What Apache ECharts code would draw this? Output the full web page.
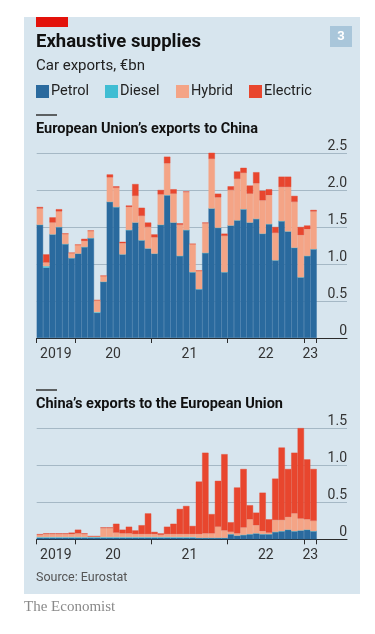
<!DOCTYPE html>
<html>
<head>
<meta charset="UTF-8">
<title>Exhaustive supplies</title>
<script src="https://cdn.jsdelivr.net/npm/echarts@6/dist/echarts.min.js"></script>
<style>
	html, body { margin: 0; padding: 0; background: #fff; }
	#main { width: 375px; height: 634px; }
</style>
</head>
<body>
<div id="main"></div>
<script>
// months, Jul 2019 - Feb 2023
var months = [
	'2019-07', '2019-08', '2019-09', '2019-10', '2019-11', '2019-12',
	'2020-01', '2020-02', '2020-03', '2020-04', '2020-05', '2020-06', '2020-07', '2020-08', '2020-09', '2020-10', '2020-11', '2020-12',
	'2021-01', '2021-02', '2021-03', '2021-04', '2021-05', '2021-06', '2021-07', '2021-08', '2021-09', '2021-10', '2021-11', '2021-12',
	'2022-01', '2022-02', '2022-03', '2022-04', '2022-05', '2022-06', '2022-07', '2022-08', '2022-09', '2022-10', '2022-11', '2022-12',
	'2023-01', '2023-02'
];
var yearLabels = ['2019', '20', '21', '22', '23'];
var fuels = ['Petrol', 'Diesel', 'Hybrid', 'Electric'];

// EU exports to China, €bn
var euPetrol = [1.53, 0.95, 1.40, 1.50, 1.27, 1.08, 1.14, 1.23, 1.35, 0.34, 0.76, 1.84, 1.77, 1.13, 1.46, 1.56, 1.32, 1.21, 1.14, 1.53, 1.93, 1.56, 1.11, 1.46, 0.89, 0.66, 1.15, 1.75, 1.49, 0.89, 1.52, 1.59, 1.74, 1.56, 1.61, 1.41, 1.54, 1.05, 1.58, 1.44, 1.22, 0.82, 1.11, 1.20];
var euDiesel = [0, 0.02, 0, 0, 0, 0, 0, 0, 0, 0.01, 0, 0, 0, 0, 0, 0, 0, 0, 0, 0, 0, 0, 0, 0, 0, 0, 0, 0, 0, 0, 0, 0, 0, 0, 0, 0, 0, 0, 0, 0, 0, 0, 0, 0];
var euHybrid = [0.22, 0.05, 0.16, 0.21, 0.14, 0.07, 0.12, 0.08, 0.10, 0.16, 0.08, 0.33, 0.26, 0.15, 0.31, 0.36, 0.33, 0.29, 0.22, 0.41, 0.43, 0.39, 0.42, 0.51, 0.38, 0.25, 0.40, 0.67, 0.41, 0.49, 0.48, 0.56, 0.49, 0.39, 0.48, 0.45, 0.39, 0.37, 0.46, 0.60, 0.62, 0.57, 0.36, 0.51];
var euElectric = [0.02, 0.11, 0.07, 0.03, 0, 0, 0, 0.03, 0, 0, 0, 0.04, 0.02, 0.02, 0.02, 0.16, 0.11, 0.06, 0.04, 0.06, 0.09, 0.06, 0.02, 0.01, 0, 0, 0.01, 0.13, 0.05, 0.03, 0.05, 0.10, 0.07, 0.11, 0.15, 0.13, 0.08, 0.08, 0.14, 0.14, 0.08, 0.11, 0.05, 0.02];

// China's exports to the EU, €bn
var cnPetrol = [0.02, 0.02, 0.02, 0.02, 0.02, 0.02, 0.02, 0.02, 0.02, 0.02, 0.02, 0.02, 0.02, 0.02, 0.02, 0.02, 0.02, 0.02, 0.02, 0.02, 0.02, 0.02, 0.02, 0.02, 0.02, 0.02, 0.02, 0.02, 0.02, 0.02, 0.07, 0.05, 0.06, 0.07, 0.08, 0.07, 0.07, 0.10, 0.11, 0.13, 0.11, 0.12, 0.13, 0.11];
var cnDiesel = [0.01, 0.01, 0.01, 0.01, 0.01, 0.01, 0.01, 0.01, 0.01, 0.01, 0.01, 0.01, 0.01, 0.01, 0.01, 0.01, 0.01, 0.01, 0.01, 0.01, 0.01, 0.01, 0.01, 0.01, 0.01, 0, 0, 0, 0, 0, 0, 0, 0, 0, 0, 0, 0, 0, 0, 0, 0, 0, 0, 0];
var cnHybrid = [0.03, 0.04, 0.04, 0.04, 0.04, 0.04, 0.05, 0.04, 0.01, 0.01, 0.12, 0.12, 0.06, 0.05, 0.05, 0.04, 0.04, 0.04, 0.04, 0.03, 0.04, 0.04, 0.04, 0.04, 0.04, 0.05, 0.06, 0.06, 0.15, 0.10, 0.03, 0.03, 0.10, 0.20, 0.11, 0.04, 0.02, 0.16, 0.15, 0.17, 0.24, 0.16, 0.14, 0.14];
var cnElectric = [0.01, 0.01, 0.01, 0.01, 0.01, 0.02, 0.05, 0.01, 0, 0, 0.01, 0.01, 0.12, 0.05, 0.09, 0.05, 0.12, 0.28, 0.03, 0.02, 0.10, 0.14, 0.34, 0.38, 0.11, 0.71, 1.09, 0.26, 0.62, 1.03, 0.13, 0.62, 0.79, 0.19, 0.17, 0.52, 0.18, 0.56, 0.98, 0.65, 0.82, 1.29, 0.81, 0.70];

var colors = ['#2a6a9e', '#3fbdd3', '#f4a486', '#e8462e'];
var sans = 'Roboto, "Noto Sans", sans-serif';

// layout: bars take 280px, the gridlines run on to 347px
var plotLeft = 36.7, plotWidth = 310.3, barsWidth = 280;
var n = months.length;
var xMax = n * plotWidth / barsWidth;

// year ticks at boundaries, labels centred in each year
var tickPos = [0];
months.forEach(function (m, i) {
	if (i > 0 && m.slice(5) === '01') tickPos.push(i);
});
tickPos.push(n);
var labelPos = [];
for (var k = 0; k < tickPos.length - 1; k++) labelPos.push((tickPos[k] + tickPos[k + 1]) / 2);

// full-width axis: baseline, year ticks and labels
function frameXAxis(gi) {
	return {
		type: 'value', gridIndex: gi, min: 0, max: xMax,
		axisLine: { show: true, onZero: false, lineStyle: { color: '#2b2b2b', width: 1 } },
		axisTick: { show: true, customValues: tickPos, length: 5, lineStyle: { color: '#2b2b2b' } },
		axisLabel: {
			customValues: labelPos, margin: 9, fontSize: 14, color: '#333', fontFamily: sans,
			formatter: function (v) { return yearLabels[labelPos.indexOf(v)]; }
		},
		splitLine: { show: false }
	};
}

function frameYAxis(gi, max) {
	return {
		type: 'value', gridIndex: gi, position: 'right', min: 0, max: max, interval: 0.5,
		axisLine: { show: false }, axisTick: { show: false },
		axisLabel: {
			inside: true, margin: 0, verticalAlign: 'bottom', fontSize: 14, color: '#333', fontFamily: sans,
			formatter: function (v) { return v === 0 ? '0' : v.toFixed(1); }
		},
		splitLine: { lineStyle: { color: '#a5b8c5', width: 1 } }
	};
}

// hidden axes that carry the bars
function barXAxis(gi) {
	return { type: 'category', gridIndex: gi, data: months, boundaryGap: true, show: false };
}
function barYAxis(gi, max) {
	return { type: 'value', gridIndex: gi, min: 0, max: max, show: false, splitLine: { show: false } };
}

function barSeries(name, values, gi, stack, color) {
	return {
		name: name, type: 'bar', stack: stack, xAxisIndex: gi, yAxisIndex: gi,
		barCategoryGap: '0%',
		data: values,
		itemStyle: { color: color, borderColor: color, borderWidth: 0.4 },
		emphasis: { disabled: true },
		silent: true,
		z: 3
	};
}

var euData = [euPetrol, euDiesel, euHybrid, euElectric];
var cnData = [cnPetrol, cnDiesel, cnHybrid, cnElectric];
var series = [];
fuels.forEach(function (f, k) { series.push(barSeries(f, euData[k], 1, 'eu', colors[k])); });
fuels.forEach(function (f, k) { series.push(barSeries(f, cnData[k], 3, 'cn', colors[k])); });

var legendLeft = [36, 105, 176, 249];

var chart = echarts.init(document.getElementById('main'));
chart.setOption({
	backgroundColor: '#ffffff',
	animation: false,
	textStyle: { fontFamily: sans },
	graphic: [
		{ type: 'rect', z: -10, shape: { x: 24, y: 17, width: 336, height: 577 }, style: { fill: '#d7e5ee' } },
		{ type: 'rect', shape: { x: 36, y: 17, width: 32, height: 10 }, style: { fill: '#e3120b' } },
		{ type: 'rect', shape: { x: 330, y: 26, width: 22, height: 21 }, style: { fill: '#a9c6da' } },
		{ type: 'text', x: 341, y: 36.5, style: { text: '3', fill: '#fff', font: 'bold 13px ' + sans, textAlign: 'center', textVerticalAlign: 'middle' } },
		{ type: 'line', shape: { x1: 36, y1: 115, x2: 57, y2: 115 }, style: { stroke: '#333', lineWidth: 1.5 } },
		{ type: 'line', shape: { x1: 36, y1: 390, x2: 57, y2: 390 }, style: { stroke: '#333', lineWidth: 1.5 } }
	],
	title: [
		{ text: 'Exhaustive supplies', left: 36, top: 33, padding: 0, textStyle: { fontSize: 18.5, fontWeight: 'bold', color: '#111', fontFamily: sans } },
		{ text: 'Car exports, €bn', left: 36, top: 59, padding: 0, textStyle: { fontSize: 15, fontWeight: 'normal', color: '#222', fontFamily: sans } },
		{ text: 'European Union\u2019s exports to China', left: 36, top: 122, padding: 0, textStyle: { fontSize: 14.5, fontWeight: 'bold', color: '#111', fontFamily: sans } },
		{ text: 'China\u2019s exports to the European Union', left: 36, top: 397, padding: 0, textStyle: { fontSize: 14.5, fontWeight: 'bold', color: '#111', fontFamily: sans } },
		{ text: 'Source: Eurostat', left: 36, top: 571, padding: 0, textStyle: { fontSize: 12.5, fontWeight: 'normal', color: '#555', fontFamily: sans } },
		{ text: 'The Economist', left: 24, top: 600, padding: 0, textStyle: { fontSize: 15, fontWeight: 'normal', color: '#8a8a8a', fontFamily: '"Liberation Serif", "DejaVu Serif", serif' } }
	],
	legend: fuels.map(function (f, k) {
		return {
			data: [f], left: legendLeft[k], top: 84, padding: 0, itemGap: 0,
			icon: 'rect', itemWidth: 11, itemHeight: 11, selectedMode: false,
			textStyle: { fontSize: 14.5, color: '#222', fontFamily: sans, padding: [0, 0, 0, -2] }
		};
	}),
	grid: [
		{ left: plotLeft, top: 153, width: plotWidth, height: 185 },
		{ left: plotLeft, top: 153, width: barsWidth, height: 185 },
		{ left: plotLeft, top: 428.3, width: plotWidth, height: 111 },
		{ left: plotLeft, top: 428.3, width: barsWidth, height: 111 }
	],
	xAxis: [frameXAxis(0), barXAxis(1), frameXAxis(2), barXAxis(3)],
	yAxis: [frameYAxis(0, 2.5), barYAxis(1, 2.5), frameYAxis(2, 1.5), barYAxis(3, 1.5)],
	series: series
});
</script>
</body>
</html>
